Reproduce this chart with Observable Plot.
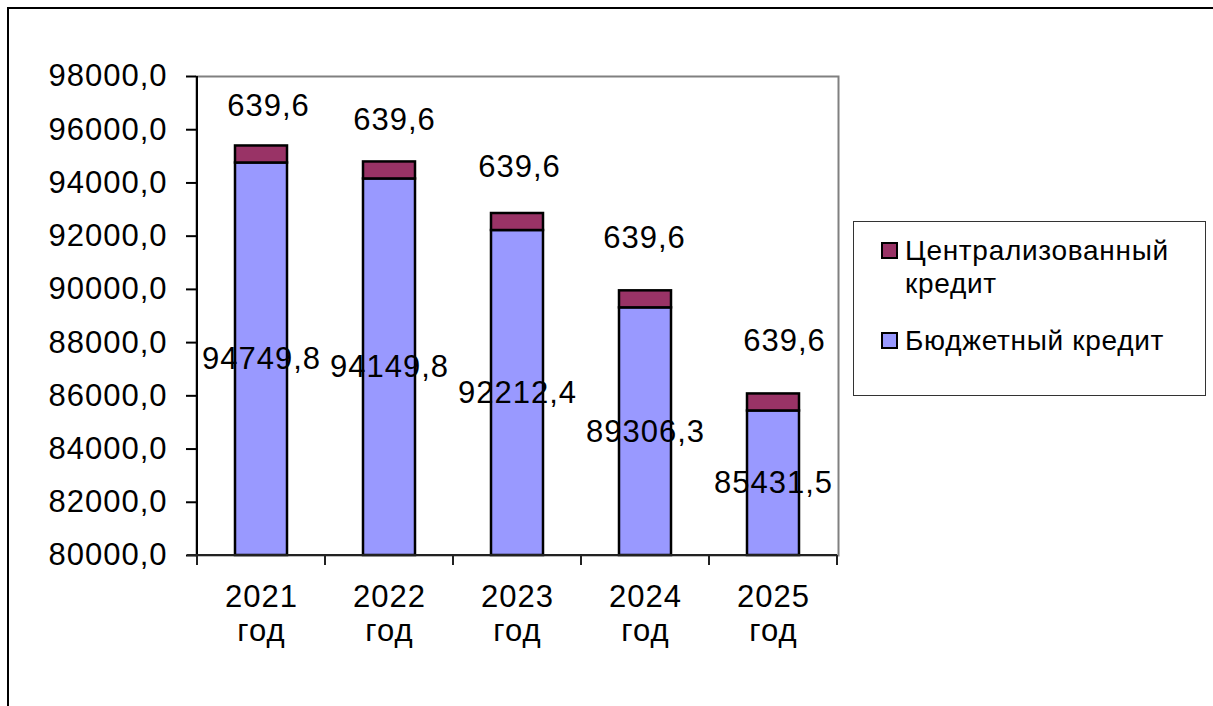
<!DOCTYPE html>
<html><head><meta charset="utf-8">
<script src="https://cdn.jsdelivr.net/npm/d3@7"></script>
<script src="https://cdn.jsdelivr.net/npm/@observablehq/plot@0.6"></script>
<style>
html,body{margin:0;padding:0;background:#fff;overflow:hidden;}
#wrap{position:relative;width:1213px;height:706px;font-family:"Liberation Sans",Arial,sans-serif;color:#000;}
#chart{position:absolute;left:0;top:0;}
#outer{position:absolute;left:7px;top:7px;width:1400px;height:900px;border-left:2px solid #000;border-top:2px solid #000;pointer-events:none;}
#legend{position:absolute;left:853px;top:221px;width:351px;height:173px;border:1.5px solid #333;background:#fff;font-size:28px;letter-spacing:0.7px;}
.sw{position:absolute;left:27px;width:13px;height:13px;border:2px solid #000;}
.lt{position:absolute;left:51px;line-height:33px;white-space:nowrap;}
</style>
</head><body>
<div id="wrap"><div id="chart"></div><div id="outer"></div><div id="legend"></div></div>
<script>
const categories = ["2021 год", "2022 год", "2023 год", "2024 год", "2025 год"];
const budget = [94749.8, 94149.8, 92212.4, 89306.3, 85431.5];
const central = [639.6, 639.6, 639.6, 639.6, 639.6];
const yTicks = [80000, 82000, 84000, 86000, 88000, 90000, 92000, 94000, 96000, 98000];
const seriesNames = ["Централизованный\nкредит", "Бюджетный кредит"];
const seriesColors = ["#993366", "#9999FF"];

// manual nudges of the top labels (pixels), as in the original chart
const topLabelNudge = [[7, -40], [5, -42], [2, -46], [-1, -53], [11, -53]];

const rows = categories.map((c, i) => ({cat: c, budget: budget[i], central: central[i], i}));
const fmt = v => v.toFixed(1).replace(".", ",");
const yMin = yTicks[0], yMax = yTicks[yTicks.length - 1];

const axisLines = (index, scales, values, dims) => {
  const {x, y} = scales;
  const g = d3.create("svg:g");
  const bw = typeof x.bandwidth === "function" ? x.bandwidth() : x.bandwidth;
  const step = x(categories[1]) - x(categories[0]);
  const xs = categories.map(c => x(c) + bw / 2 - step / 2);
  xs.push(x(categories[categories.length - 1]) + bw / 2 + step / 2);
  const y0 = y(yMin), yTop = y(yMax);
  const left = xs[0];
  g.append("line").attr("x1", left).attr("x2", left).attr("y1", yTop).attr("y2", y0)
    .attr("stroke", "#000").attr("stroke-width", 2);
  g.append("line").attr("x1", left - 10).attr("x2", xs[xs.length - 1]).attr("y1", y0).attr("y2", y0)
    .attr("stroke", "#222").attr("stroke-width", 2);
  for (const xv of xs) {
    g.append("line").attr("x1", xv).attr("x2", xv).attr("y1", y0).attr("y2", y0 + 10)
      .attr("stroke", "#222").attr("stroke-width", 2);
  }
  return g.node();
};

const topLabels = rows.map(r => Plot.text([r], {
  x: "cat", y: d => d.budget + d.central, text: d => fmt(d.central),
  dx: topLabelNudge[r.i][0], dy: topLabelNudge[r.i][1], fontSize: 31, fill: "#000"
}));

const chart = Plot.plot({
  width: 1213,
  height: 706,
  marginLeft: 196,
  marginRight: 375,
  marginTop: 76,
  marginBottom: 151,
  style: {background: "transparent", fontFamily: "'Liberation Sans', Arial, sans-serif", letterSpacing: "1px", color: "#000"},
  x: {type: "band", domain: categories, paddingInner: 0.595, paddingOuter: 0.2975, axis: null},
  y: {domain: [yMin, yMax], axis: null},
  marks: [
    Plot.frame({stroke: "#808080", strokeWidth: 2}),
    Plot.axisY({ticks: yTicks, tickFormat: fmt, tickSize: 10, tickPadding: 19, fontSize: 31, strokeWidth: 2, label: null}),
    Plot.axisX({tickSize: 0, tickPadding: 28, fontSize: 31, lineHeight: 1.08, label: null, tickFormat: d => d.replace(" ", "\n")}),
    Plot.barY(rows, {x: "cat", y1: d => yMin, y2: "budget", fill: seriesColors[1], stroke: "#000", strokeWidth: 2.5}),
    Plot.barY(rows, {x: "cat", y1: "budget", y2: d => d.budget + d.central, fill: seriesColors[0], stroke: "#000", strokeWidth: 2.5}),
    axisLines,
    Plot.text(rows, {x: "cat", y: d => (yMin + d.budget) / 2, text: d => fmt(d.budget), fontSize: 31, fill: "#000"}),
    ...topLabels
  ]
});
document.getElementById("chart").appendChild(chart);

const legend = document.getElementById("legend");
const legendTops = [{sw: 20, tx: 12}, {sw: 110, tx: 102}];
seriesNames.forEach((name, i) => {
  const sw = document.createElement("div");
  sw.className = "sw";
  sw.style.top = legendTops[i].sw + "px";
  sw.style.background = seriesColors[i];
  legend.appendChild(sw);
  const t = document.createElement("div");
  t.className = "lt";
  t.style.top = legendTops[i].tx + "px";
  t.innerHTML = name.replace("\n", "<br>");
  legend.appendChild(t);
});
</script>
</body></html>
